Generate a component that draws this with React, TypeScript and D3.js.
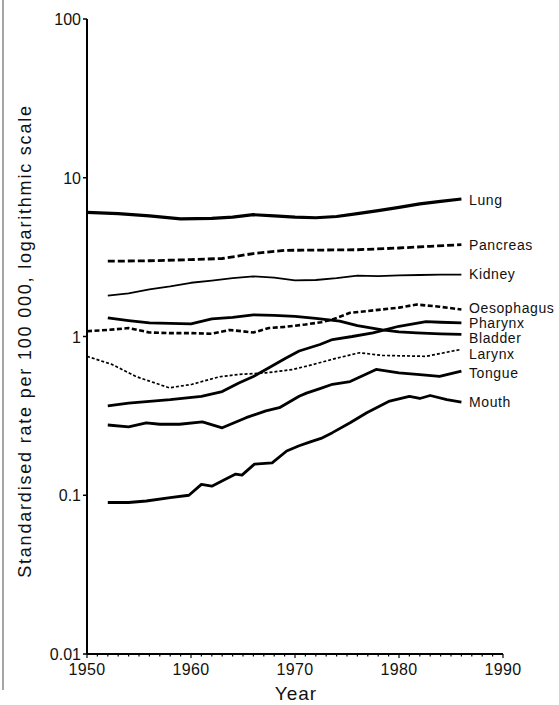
import React from "react";
import * as d3 from "d3";

const yearsLung = [1950, 1953, 1956, 1959, 1962, 1964, 1966, 1968, 1970, 1972, 1974, 1976, 1978, 1980, 1982, 1984, 1986];
const lung = [6.05, 5.95, 5.75, 5.5, 5.55, 5.65, 5.85, 5.75, 5.65, 5.6, 5.7, 5.95, 6.2, 6.5, 6.85, 7.1, 7.35];

const yearsPancreas = [1952, 1956, 1960, 1963, 1966, 1969, 1972, 1976, 1980, 1983, 1986];
const pancreas = [2.98, 3.0, 3.05, 3.1, 3.33, 3.49, 3.5, 3.52, 3.61, 3.7, 3.79];

const yearsKidney = [1952, 1954, 1956, 1958, 1960, 1962, 1964, 1966, 1968, 1970, 1972, 1974, 1976, 1978, 1980, 1982, 1984, 1986];
const kidney = [1.81, 1.87, 1.98, 2.07, 2.18, 2.25, 2.33, 2.39, 2.35, 2.26, 2.27, 2.33, 2.42, 2.4, 2.43, 2.44, 2.45, 2.45];

const yearsOesophagus = [1950, 1952, 1954, 1956, 1958, 1960, 1962, 1963.7, 1966, 1967.5, 1969, 1971, 1972.5, 1973.6, 1975.3, 1978.4, 1980, 1981.7, 1983.9, 1986];
const oesophagus = [1.08, 1.1, 1.13, 1.06, 1.05, 1.05, 1.04, 1.1, 1.06, 1.13, 1.15, 1.19, 1.23, 1.28, 1.41, 1.48, 1.52, 1.59, 1.54, 1.48];

const yearsPharynx = [1952, 1954, 1956, 1958, 1961, 1963, 1964.6, 1966, 1967.2, 1969.1, 1970.4, 1972.4, 1973.6, 1975.5, 1977.5, 1980, 1982.6, 1984, 1986];
const pharynx = [0.365, 0.38, 0.39, 0.4, 0.42, 0.45, 0.51, 0.56, 0.62, 0.73, 0.81, 0.89, 0.957, 1.0, 1.055, 1.16, 1.24, 1.23, 1.22];

const yearsBladder = [1952, 1954, 1956, 1958, 1960, 1962, 1964, 1966, 1968, 1970, 1972, 1974.3, 1976, 1978.4, 1980, 1981.7, 1984, 1986];
const bladder = [1.31, 1.26, 1.22, 1.21, 1.2, 1.29, 1.32, 1.37, 1.36, 1.34, 1.3, 1.25, 1.17, 1.1, 1.07, 1.055, 1.04, 1.03];

const yearsLarynx = [1950, 1952.4, 1954.7, 1957.9, 1960.1, 1962.7, 1964.6, 1967.2, 1969.8, 1971.5, 1974, 1976.2, 1978.4, 1982.6, 1986];
const larynx = [0.75, 0.667, 0.56, 0.475, 0.5, 0.557, 0.577, 0.59, 0.62, 0.66, 0.73, 0.79, 0.76, 0.75, 0.83];

const yearsTongue = [1952, 1954, 1955.7, 1957, 1958.9, 1961.1, 1963, 1965.3, 1967.2, 1968.5, 1970.4, 1971.1, 1972.4, 1973.6, 1975.3, 1977.8, 1980, 1982, 1983.9, 1986];
const tongue = [0.277, 0.27, 0.286, 0.28, 0.28, 0.29, 0.266, 0.308, 0.34, 0.356, 0.42, 0.44, 0.47, 0.5, 0.52, 0.62, 0.59, 0.575, 0.56, 0.605];

const yearsMouth = [1952, 1954, 1955.7, 1958, 1959.8, 1961, 1962, 1963.4, 1964.3, 1964.9, 1966.1, 1967.8, 1969.2, 1970.4, 1971.4, 1972.5, 1973.6, 1975.3, 1976.9, 1979.1, 1981, 1982, 1983, 1984.6, 1986];
const mouth = [0.09, 0.09, 0.092, 0.0966, 0.1, 0.117, 0.114, 0.127, 0.136, 0.134, 0.157, 0.16, 0.19, 0.205, 0.216, 0.228, 0.248, 0.286, 0.331, 0.392, 0.42, 0.407, 0.425, 0.4, 0.386];

const seriesNames = ["Lung", "Pancreas", "Kidney", "Oesophagus", "Pharynx", "Bladder", "Larynx", "Tongue", "Mouth"];

const yTickValues = [0.01, 0.1, 1, 10, 100];
const yTickLabels = ["0.01", "0.1", "1", "10", "100"];
const xTickValues = [1950, 1960, 1970, 1980, 1990];

type Style = { w: number; dash?: string };
const styles: Style[] = [
  { w: 3.2 },
  { w: 2.8, dash: "7,3" },
  { w: 1.8 },
  { w: 2.6, dash: "5,2.5" },
  { w: 2.8 },
  { w: 2.8 },
  { w: 1.7, dash: "3,2" },
  { w: 2.8 },
  { w: 2.8 },
];

export default function App() {
  const W = 559, H = 705;
  const x = d3.scaleLinear().domain([1950, 1990]).range([87, 503]);
  const y = d3.scaleLog().domain([0.01, 100]).range([654, 19]);
  const line = d3
    .line<[number, number]>()
    .x((d) => x(d[0]))
    .y((d) => y(d[1]))
    .curve(d3.curveLinear);

  const all: [number[], number[]][] = [
    [yearsLung, lung],
    [yearsPancreas, pancreas],
    [yearsKidney, kidney],
    [yearsOesophagus, oesophagus],
    [yearsPharynx, pharynx],
    [yearsBladder, bladder],
    [yearsLarynx, larynx],
    [yearsTongue, tongue],
    [yearsMouth, mouth],
  ];
  const labelY = [200, 245, 274, 308, 323, 338, 354, 373, 402];
  const font = "'Liberation Sans', Arial, sans-serif";
  const minorYears = d3.range(1950, 1991, 1);

  return (
    <svg width={W} height={H} style={{ position: "absolute", left: 0, top: 0, background: "#fff" }}>
      <line x1={3} x2={3} y1={0} y2={690} stroke="#888" strokeWidth={1.5} />
      {/* y axis */}
      <line x1={x(1950)} x2={x(1950)} y1={y(100)} y2={y(0.01)} stroke="#000" strokeWidth={2} />
      {yTickValues.map((v, i) => (
        <g key={v}>
          <line x1={x(1950) - 4} x2={x(1950)} y1={y(v)} y2={y(v)} stroke="#000" strokeWidth={1.5} />
          <text x={x(1950) - 6} y={y(v) + 6} textAnchor="end" fontFamily={font} fontSize={16} fill="#111">
            {yTickLabels[i]}
          </text>
        </g>
      ))}
      {/* x axis */}
      <line x1={x(1950)} x2={x(1990)} y1={y(0.01)} y2={y(0.01)} stroke="#000" strokeWidth={2} />
      {minorYears.map((yr) => (
        <line key={yr} x1={x(yr)} x2={x(yr)} y1={y(0.01)} y2={y(0.01) + (yr % 10 === 0 ? 4 : 2.5)} stroke="#000" strokeWidth={1.2} />
      ))}
      {xTickValues.map((v) => (
        <text key={v} x={x(v)} y={y(0.01) + 21} textAnchor="middle" fontFamily={font} fontSize={16} letterSpacing={0.3} fill="#111">
          {v}
        </text>
      ))}
      <text x={296} y={700} textAnchor="middle" fontFamily={font} fontSize={19} letterSpacing={1} fill="#111">
        Year
      </text>
      <text
        transform={`translate(31,${341}) rotate(-90)`}
        textAnchor="middle"
        fontFamily={font}
        fontSize={18}
        letterSpacing={1.8}
        fill="#111"
      >
        Standardised rate per 100 000, logarithmic scale
      </text>
      {all.map(([yrs, vals], i) => (
        <path
          key={seriesNames[i]}
          d={line(yrs.map((yr, j) => [yr, vals[j]] as [number, number])) || ""}
          fill="none"
          stroke="#000"
          strokeWidth={styles[i].w}
          strokeDasharray={styles[i].dash}
          strokeLinejoin="round"
        />
      ))}
      {seriesNames.map((n, i) => (
        <text key={n} x={469} y={labelY[i] + 5} fontFamily={font} fontSize={14} letterSpacing={0.6} fill="#111">
          {n}
        </text>
      ))}
    </svg>
  );
}
